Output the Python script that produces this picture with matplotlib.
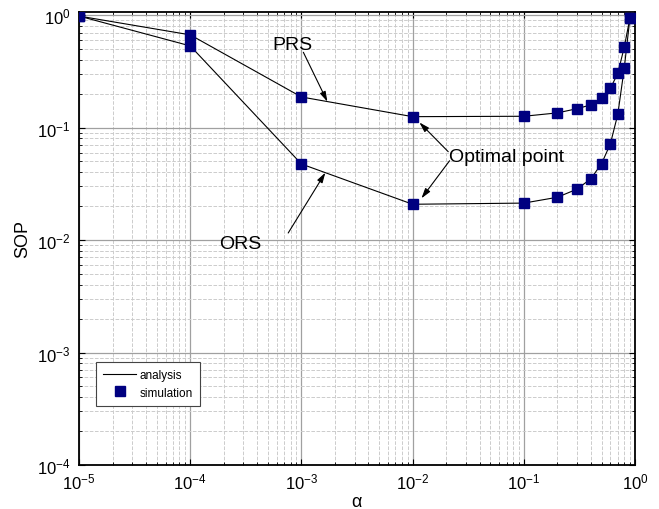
import numpy as np
import matplotlib
matplotlib.use('Agg')
import matplotlib.pyplot as plt

plt.rcParams['font.family'] = ['Liberation Sans', 'DejaVu Sans']
plt.rcParams['mathtext.default'] = 'regular'

# alpha values (x axis)
alpha = [1e-5, 1e-4, 1e-3, 1e-2, 1e-1, 0.2, 0.3, 0.4, 0.5, 0.6, 0.7, 0.8, 0.9]
# SOP for the two schemes
sop_prs = [0.98, 0.667, 0.187, 0.125, 0.126, 0.135, 0.147, 0.159, 0.183, 0.223, 0.303, 0.518, 0.94]
sop_ors = [0.98, 0.532, 0.0474, 0.0208, 0.0213, 0.024, 0.0283, 0.035, 0.0477, 0.0715, 0.131, 0.336, 0.94]

fig = plt.figure(figsize=(6.59, 5.10), dpi=100)
ax = fig.add_axes([0.12, 0.0863, 0.8436, 0.8882])

# analysis lines
ax.plot(alpha, sop_prs, color='black', lw=0.8, zorder=3)
ax.plot(alpha, sop_ors, color='black', lw=0.8, zorder=3)
# simulation markers
ax.plot(alpha, sop_prs, ls='None', marker='s', ms=7.2, color='#000080', zorder=4)
ax.plot(alpha, sop_ors, ls='None', marker='s', ms=7.2, color='#000080', zorder=4)

ax.set_xscale('log')
ax.set_yscale('log')
ax.set_xlim(1e-5, 1.0)
ax.set_ylim(1e-4, 1.065)
ax.set_xticks([1e-5, 1e-4, 1e-3, 1e-2, 1e-1, 1.0])
ax.set_yticks([1e-4, 1e-3, 1e-2, 1e-1, 1.0])

ax.grid(True, which='major', color='#a0a0a0', lw=0.9, ls='-')
ax.grid(True, which='minor', color='#cccccc', lw=0.7, ls='--')
ax.set_axisbelow(True)
ax.tick_params(which='both', direction='in', top=True, right=True, labelsize=12)
ax.tick_params(which='major', length=4)
ax.tick_params(which='minor', length=2.5)
ax.tick_params(axis='x', which='major', pad=5)
ax.tick_params(axis='y', which='major', pad=6)
for s in ax.spines.values():
    s.set_linewidth(1.3)

ax.set_xlabel(r'$\alpha$', fontsize=13, labelpad=1)
ax.set_ylabel('SOP', fontsize=13, labelpad=4)

arr = dict(arrowstyle='-|>,head_length=0.6,head_width=0.18', color='black', lw=0.8,
           shrinkA=0, shrinkB=0)

ax.text(8.3e-4, 0.55, 'PRS', fontsize=14, ha='center', va='center')
ax.annotate('', xy=(1.71e-3, 0.170), xytext=(1.04e-3, 0.467), arrowprops=arr)

ax.text(2.82e-4, 0.0094, 'ORS', fontsize=14, ha='center', va='center')
ax.annotate('', xy=(1.64e-3, 0.0397), xytext=(7.6e-4, 0.01155), arrowprops=arr)

ax.text(0.0211, 0.055, 'Optimal point', fontsize=14, ha='left', va='center')
ax.annotate('', xy=(1.15e-2, 0.111), xytext=(0.0209, 0.061), arrowprops=arr)
ax.annotate('', xy=(1.2e-2, 0.0235), xytext=(0.0215, 0.0507), arrowprops=arr)

h1, = ax.plot([], [], color='black', lw=0.8, label='analysis')
h2, = ax.plot([], [], ls='None', marker='s', ms=7.2, color='#000080', label='simulation')
leg = ax.legend(handles=[h1, h2], loc='upper left', bbox_to_anchor=(0.031, 0.227),
                fontsize=8.5, fancybox=False, framealpha=1, edgecolor='#444444',
                borderpad=0.6, handlelength=2.8, handletextpad=0.25, labelspacing=0.45,
                borderaxespad=0)
leg.get_frame().set_linewidth(0.8)

fig.savefig('out.png', dpi=100)
